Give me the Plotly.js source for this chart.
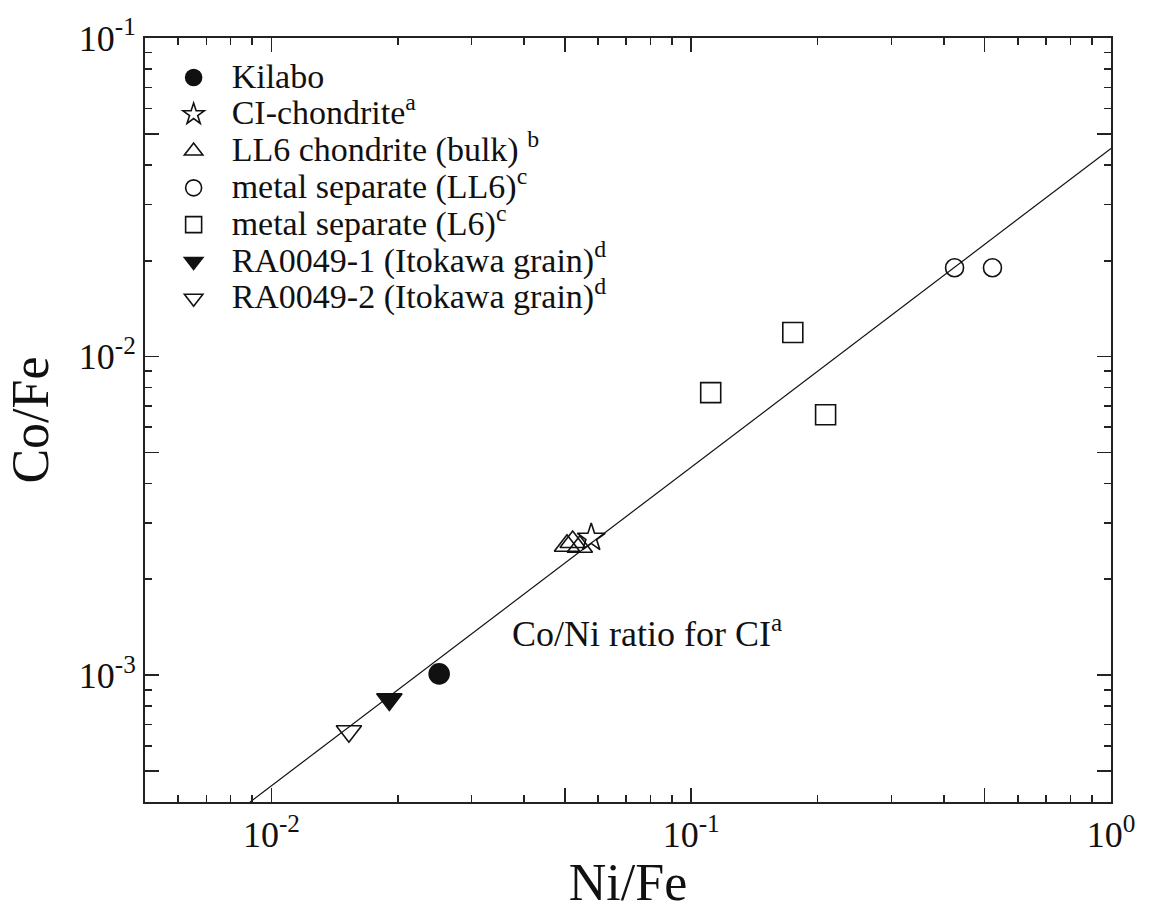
<!DOCTYPE html>
<html>
<head>
<meta charset="utf-8">
<script src="https://cdn.plot.ly/plotly-3.0.1.min.js"></script>
<style>html,body{margin:0;padding:0;background:#fff;}#chart{width:1154px;height:911px;}</style>
</head>
<body>
<div id="chart"></div>
<script>
// ---- data ----
const kilaboX = [0.0251];
const kilaboY = [0.00101];
const ciX = [0.0578];
const ciY = [0.00270];
const ll6BulkX = [0.0506, 0.0543, 0.0522];
const ll6BulkY = [0.00255, 0.00253, 0.00262];
const metalLL6X = [0.424, 0.522];
const metalLL6Y = [0.0190, 0.0190];
const metalL6X = [0.1113, 0.1746, 0.209];
const metalL6Y = [0.00771, 0.0119, 0.00657];
const ra1X = [0.0191];
const ra1Y = [0.00084];
const ra2X = [0.0153];
const ra2Y = [0.000667];
const ciLineX = [0.0089, 1];
const ciLineY = [0.0004, 0.045];

const seriesNames = [
  'Kilabo',
  'CI-chondrite<sup>a</sup>',
  'LL6 chondrite (bulk) <sup>b</sup>',
  'metal separate (LL6)<sup>c</sup>',
  'metal separate (L6)<sup>c</sup>',
  'RA0049-1 (Itokawa grain)<sup>d</sup>',
  'RA0049-2 (Itokawa grain)<sup>d</sup>'
];
const annotationText = 'Co/Ni ratio for CI<sup>a</sup>';

const xMajorVals = [0.01, 0.05, 0.1, 0.5, 1];
const xMajorText = ['10<sup>-2</sup>', '', '10<sup>-1</sup>', '', '10<sup>0</sup>'];
const xMinorVals = [0.006, 0.007, 0.008, 0.009, 0.02, 0.03, 0.04, 0.06, 0.07, 0.08, 0.09,
                    0.2, 0.3, 0.4, 0.6, 0.7, 0.8, 0.9];
const yMajorVals = [0.0005, 0.001, 0.005, 0.01, 0.05, 0.1];
const yMajorText = ['', '10<sup>-3</sup>', '', '10<sup>-2</sup>', '', '10<sup>-1</sup>'];
const yMinorVals = [0.0006, 0.0007, 0.0008, 0.0009, 0.002, 0.003, 0.004, 0.006, 0.007, 0.008, 0.009,
                    0.02, 0.03, 0.04, 0.06, 0.07, 0.08, 0.09];

// ---- style ----
const FONT = 'Liberation Serif';
const INK = '#111';
const AX = '#222';
const wrap = s => '<span style="font-size:34px">' + s + '</span>';

function pts(x, y, name, symbol, size) {
  return {
    type: 'scatter', mode: 'markers', x: x, y: y, name: wrap(name),
    marker: {symbol: symbol, size: size, color: INK, line: {color: INK, width: 1.6}},
    hoverinfo: 'skip', cliponaxis: false
  };
}

const traces = [
  {type: 'scatter', mode: 'lines', x: ciLineX, y: ciLineY, showlegend: false,
   line: {color: INK, width: 1.2}, hoverinfo: 'skip'},
  pts(kilaboX, kilaboY, seriesNames[0], 'circle', 20),
  pts(ciX, ciY, seriesNames[1], 'star-open', 21),
  pts(ll6BulkX, ll6BulkY, seriesNames[2], 'triangle-up-open', 22),
  pts(metalLL6X, metalLL6Y, seriesNames[3], 'circle-open', 18),
  pts(metalL6X, metalL6Y, seriesNames[4], 'square-open', 20),
  pts(ra1X, ra1Y, seriesNames[5], 'triangle-down', 22),
  pts(ra2X, ra2Y, seriesNames[6], 'triangle-down-open', 22)
];

function axis(range, majV, majT, minV, title) {
  return {
    type: 'log', range: range, autorange: false,
    showline: true, linewidth: 2, linecolor: AX, mirror: 'ticks',
    ticks: 'inside', ticklen: 14, tickwidth: 1.6, tickcolor: AX,
    tickmode: 'array', tickvals: majV, ticktext: majT,
    tickfont: {family: FONT, size: 36, color: INK},
    showgrid: false, zeroline: false,
    minor: {tickmode: 'array', tickvals: minV, ticks: 'inside', ticklen: 7,
            tickwidth: 1.6, tickcolor: AX, showgrid: false},
    title: {text: title, font: {family: FONT, size: 52, color: INK}, standoff: 14}
  };
}

const layout = {
  width: 1154, height: 911,
  margin: {l: 145, r: 43, t: 38, b: 109},
  paper_bgcolor: '#fff', plot_bgcolor: '#fff',
  font: {family: FONT, color: INK},
  showlegend: true,
  legend: {
    x: 0.011, y: 0.979, xanchor: 'left', yanchor: 'top',
    xref: 'paper', yref: 'paper',
    bgcolor: 'rgba(0,0,0,0)', borderwidth: 0,
    itemwidth: 66, itemsizing: 'trace',
    font: {family: FONT, size: 26, color: INK}
  },
  xaxis: axis([Math.log10(0.005), 0], xMajorVals, xMajorText, xMinorVals, 'Ni/Fe'),
  yaxis: axis([Math.log10(0.0004), -1], yMajorVals, yMajorText, yMinorVals, 'Co/Fe'),
  annotations: [{
    x: Math.log10(0.037), y: Math.log10(0.001374), xref: 'x', yref: 'y',
    xanchor: 'left', yanchor: 'middle', showarrow: false,
    text: annotationText, font: {family: FONT, size: 36, color: INK}
  }]
};

Plotly.newPlot('chart', traces, layout, {displayModeBar: false, staticPlot: true});
</script>
</body>
</html>
